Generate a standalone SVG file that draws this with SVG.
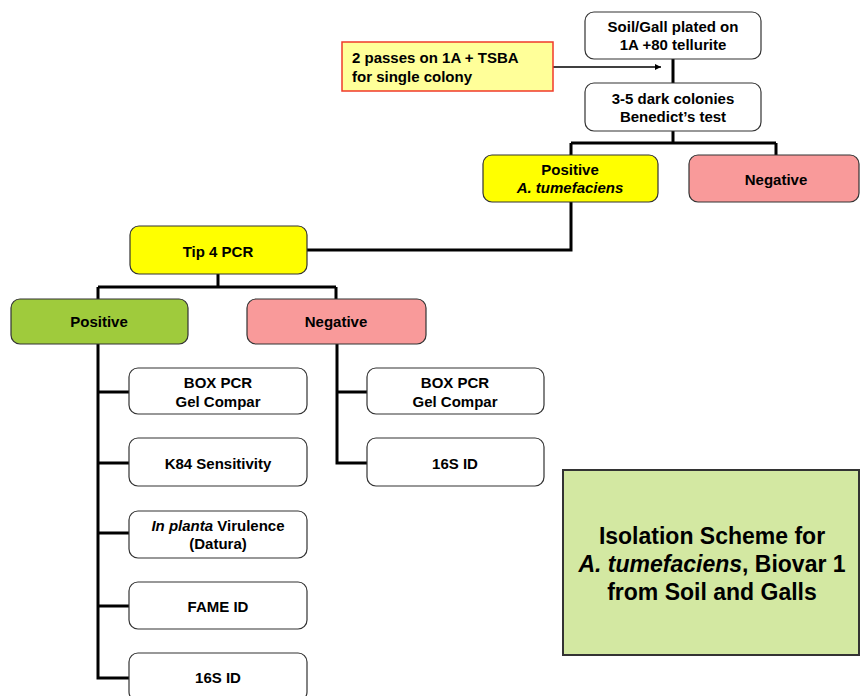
<svg xmlns="http://www.w3.org/2000/svg" width="860" height="696" viewBox="0 0 860 696">
<defs>
<marker id="ah" viewBox="0 0 10 10" refX="10" refY="5" markerWidth="8" markerHeight="6" markerUnits="userSpaceOnUse" orient="auto"><path d="M0,0 L10,5 L0,10 z" fill="#000"/></marker>
</defs>
<style>
.n{stroke:#333;stroke-width:1.2}
.w{fill:#fff}
.y{fill:#ffff00}
.p{fill:#f99a9a}
.g{fill:#9fcb3c}
.t{font-family:"Liberation Sans",Arial,sans-serif;font-weight:bold;font-size:15px;text-anchor:middle;fill:#000}
.c{fill:none;stroke:#000;stroke-width:3}
</style>
<rect width="860" height="696" fill="#fff"/>
<g id="connectors">
<path class="c" d="M673,59 V83 M673,131 V143 M571,143 H776 M571,143 V155 M776,143 V155"/>
<path class="c" d="M571,202 V250 H307"/>
<path class="c" d="M218,274 V287 M98,287 H336 M98,287 V299 M336,287 V299"/>
<path class="c" d="M98,344 V678 H129 M98,392 H129 M98,463 H129 M98,533 H129 M98,606 H129"/>
<path class="c" d="M337,344 V463 H367 M337,392 H367"/>
<line x1="553" y1="67" x2="661" y2="67" stroke="#000" stroke-width="1.5" marker-end="url(#ah)"/>
</g>
<g id="soil"><rect class="n w" x="585" y="12" width="176" height="47" rx="9"/><text class="t" x="673" y="32">Soil/Gall plated on</text><text class="t" x="673" y="50">1A +80 tellurite</text></g>
<g id="passes"><rect x="342" y="42" width="211" height="49" fill="#ffff99" stroke="#f03a2a" stroke-width="1.5"/><text class="t" style="text-anchor:start" x="352" y="63">2 passes on 1A + TSBA</text><text class="t" style="text-anchor:start" x="352" y="82">for single colony</text></g>
<g id="colonies"><rect class="n w" x="585" y="83" width="176" height="48" rx="9"/><text class="t" x="673" y="104">3-5 dark colonies</text><text class="t" x="673" y="122">Benedict’s test</text></g>
<g id="pos1"><rect class="n y" x="483" y="155" width="175" height="47" rx="9"/><text class="t" x="570" y="175">Positive</text><text class="t" x="570" y="193"><tspan font-style="italic">A. tumefaciens</tspan></text></g>
<g id="neg1"><rect class="n p" x="689" y="155" width="170" height="47" rx="9"/><text class="t" x="776" y="185">Negative</text></g>
<g id="tip4"><rect class="n y" x="130" y="226" width="177" height="48" rx="9"/><text class="t" x="218" y="257">Tip 4 PCR</text></g>
<g id="pos2"><rect class="n g" x="11" y="299" width="177" height="45" rx="9"/><text class="t" x="99" y="327">Positive</text></g>
<g id="neg2"><rect class="n p" x="247" y="299" width="179" height="45" rx="9"/><text class="t" x="336" y="327">Negative</text></g>
<g id="box1"><rect class="n w" x="129" y="368" width="178" height="46" rx="9"/><text class="t" x="218" y="388">BOX PCR</text><text class="t" x="218" y="407">Gel Compar</text></g>
<g id="k84"><rect class="n w" x="129" y="438" width="178" height="48" rx="9"/><text class="t" x="218" y="469">K84 Sensitivity</text></g>
<g id="planta"><rect class="n w" x="129" y="511" width="178" height="47" rx="9"/><text class="t" x="218" y="531"><tspan font-style="italic">In planta</tspan> Virulence</text><text class="t" x="218" y="549">(Datura)</text></g>
<g id="fame"><rect class="n w" x="129" y="582" width="178" height="47" rx="9"/><text class="t" x="218" y="612">FAME ID</text></g>
<g id="s16a"><rect class="n w" x="129" y="653" width="178" height="48" rx="9"/><text class="t" x="218" y="683">16S ID</text></g>
<g id="box2"><rect class="n w" x="367" y="368" width="177" height="46" rx="9"/><text class="t" x="455" y="388">BOX PCR</text><text class="t" x="455" y="407">Gel Compar</text></g>
<g id="s16b"><rect class="n w" x="367" y="438" width="177" height="48" rx="9"/><text class="t" x="455" y="469">16S ID</text></g>
<g id="title"><rect x="563" y="470" width="296" height="185" fill="#d3e8a2" stroke="#333" stroke-width="2"/><text class="t" style="font-size:23px" x="712" y="544">Isolation Scheme for</text><text class="t" style="font-size:23px" x="712" y="572"><tspan font-style="italic">A. tumefaciens</tspan>, Biovar 1</text><text class="t" style="font-size:23px" x="712" y="600">from Soil and Galls</text></g>
</svg>
